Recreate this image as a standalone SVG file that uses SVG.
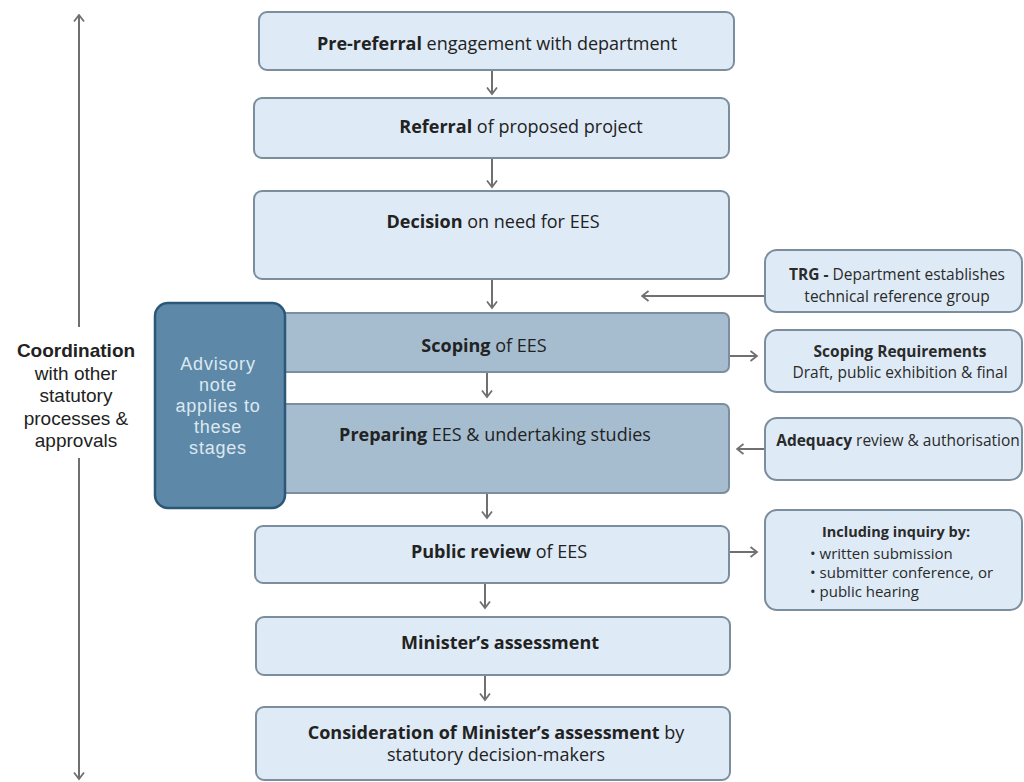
<svg xmlns="http://www.w3.org/2000/svg" width="1024" height="782" viewBox="0 0 1024 782">
<defs>
<style>
.box{fill:#deeaf6;stroke:#7c8e9e;stroke-width:2}
.dark{fill:#a6bdd0;stroke:#7c8e9e;stroke-width:2}
.adv{fill:#5e88a7;stroke:#2b5876;stroke-width:2.5}
.t{font-family:"Open Sans","Liberation Sans",sans-serif;font-size:18px;fill:#222;text-anchor:middle}
.c{font-family:"Liberation Sans",Arial,sans-serif;font-size:19px;fill:#222;text-anchor:middle}
.a{font-family:"Liberation Sans",Arial,sans-serif;font-size:18px;letter-spacing:0.8px;fill:#dce8f1;text-anchor:middle}
.s{font-family:"Open Sans","Liberation Sans",sans-serif;font-size:15.5px;fill:#2a2a2a;text-anchor:middle}
.l{font-family:"Open Sans","Liberation Sans",sans-serif;font-size:15px;fill:#2a2a2a}
.b{font-weight:bold}
.conn{stroke:#707070;stroke-width:2;fill:none;marker-end:url(#ah)}
</style>
<marker id="ah" viewBox="0 0 12 12" refX="10.5" refY="6" markerWidth="12" markerHeight="12" orient="auto" markerUnits="userSpaceOnUse">
<path d="M4,1 L10.5,6 L4,11" fill="none" stroke="#707070" stroke-width="1.8"/>
</marker>
</defs>
<rect width="1024" height="782" fill="#ffffff"/>

<g id="connectors">
<line class="conn" x1="79" y1="327" x2="79" y2="15"/>
<line class="conn" x1="79" y1="458" x2="79" y2="779"/>
<line class="conn" x1="492" y1="70" x2="492" y2="94"/>
<line class="conn" x1="492" y1="158" x2="492" y2="187"/>
<line class="conn" x1="492" y1="279" x2="492" y2="308"/>
<line class="conn" x1="765" y1="296" x2="642" y2="296"/>
<line class="conn" x1="487" y1="372" x2="487" y2="397"/>
<line class="conn" x1="729" y1="356" x2="757" y2="356"/>
<line class="conn" x1="765" y1="449" x2="737" y2="449"/>
<line class="conn" x1="487" y1="493" x2="487" y2="518"/>
<line class="conn" x1="729" y1="552" x2="757" y2="552"/>
<line class="conn" x1="485" y1="583" x2="485" y2="608"/>
<line class="conn" x1="485" y1="675" x2="485" y2="700"/>
</g>

<g id="coordination">
<text class="c b" x="76" y="357">Coordination</text>
<text class="c" x="76" y="380">with other</text>
<text class="c" x="76" y="402">statutory</text>
<text class="c" x="76" y="425">processes &amp;</text>
<text class="c" x="76" y="447">approvals</text>
</g>

<g id="n-prereferral">
<rect class="box" x="259" y="12" width="475" height="58" rx="8"/>
<text class="t" x="497" y="50"><tspan class="b">Pre-referral</tspan> engagement with department</text>
</g>

<g id="n-referral">
<rect class="box" x="254" y="98" width="475" height="60" rx="8"/>
<text class="t" x="521" y="133"><tspan class="b">Referral</tspan> of proposed project</text>
</g>

<g id="n-decision">
<rect class="box" x="254" y="191" width="475" height="88" rx="8"/>
<text class="t" x="493" y="228"><tspan class="b">Decision</tspan> on need for EES</text>
</g>

<g id="n-scoping">
<rect class="dark" x="260" y="313" width="469" height="59" rx="6"/>
<text class="t" x="484" y="352"><tspan class="b">Scoping</tspan> of EES</text>
</g>

<g id="n-preparing">
<rect class="dark" x="260" y="404" width="469" height="89" rx="6"/>
<text class="t" x="495" y="441"><tspan class="b">Preparing</tspan> EES &amp; undertaking studies</text>
</g>

<g id="n-advisory">
<rect class="adv" x="155" y="303" width="130" height="205" rx="13"/>
<text class="a" x="218" y="370">Advisory</text>
<text class="a" x="218" y="391">note</text>
<text class="a" x="218" y="412">applies to</text>
<text class="a" x="218" y="433">these</text>
<text class="a" x="218" y="454">stages</text>
</g>

<g id="n-public">
<rect class="box" x="255" y="526" width="474" height="57" rx="8"/>
<text class="t" x="499" y="558"><tspan class="b">Public review</tspan> of EES</text>
</g>

<g id="n-minister">
<rect class="box" x="256" y="617" width="474" height="58" rx="8"/>
<text class="t" x="500" y="649"><tspan class="b">Minister’s assessment</tspan></text>
</g>

<g id="n-consideration">
<rect class="box" x="256" y="707" width="474" height="73" rx="8"/>
<text class="t" x="496" y="739"><tspan class="b">Consideration of Minister’s assessment</tspan> by<tspan x="496" dy="22">statutory decision-makers</tspan></text>
</g>

<g id="n-trg">
<rect class="box" x="765" y="250" width="257" height="62" rx="12"/>
<text class="s" x="897" y="280"><tspan class="b">TRG -</tspan> Department establishes</text>
<text class="s" x="897" y="302">technical reference group</text>
</g>

<g id="n-scopereq">
<rect class="box" x="765" y="330" width="257" height="62" rx="12"/>
<text class="s" x="900" y="357"><tspan class="b">Scoping Requirements</tspan></text>
<text class="s" x="900" y="378">Draft, public exhibition &amp; final</text>
</g>

<g id="n-adequacy">
<rect class="box" x="765" y="418" width="257" height="62" rx="12"/>
<text class="s" x="898" y="446"><tspan class="b">Adequacy</tspan> review &amp; authorisation</text>
</g>

<g id="n-inquiry">
<rect class="box" x="765" y="510" width="257" height="100" rx="12"/>
<text class="s b" x="896" y="537" style="font-size:14.5px">Including inquiry by:</text>
<text class="l" x="810" y="559">•  written submission</text>
<text class="l" x="810" y="578">•  submitter conference, or</text>
<text class="l" x="810" y="597">•  public hearing</text>
</g>
</svg>
